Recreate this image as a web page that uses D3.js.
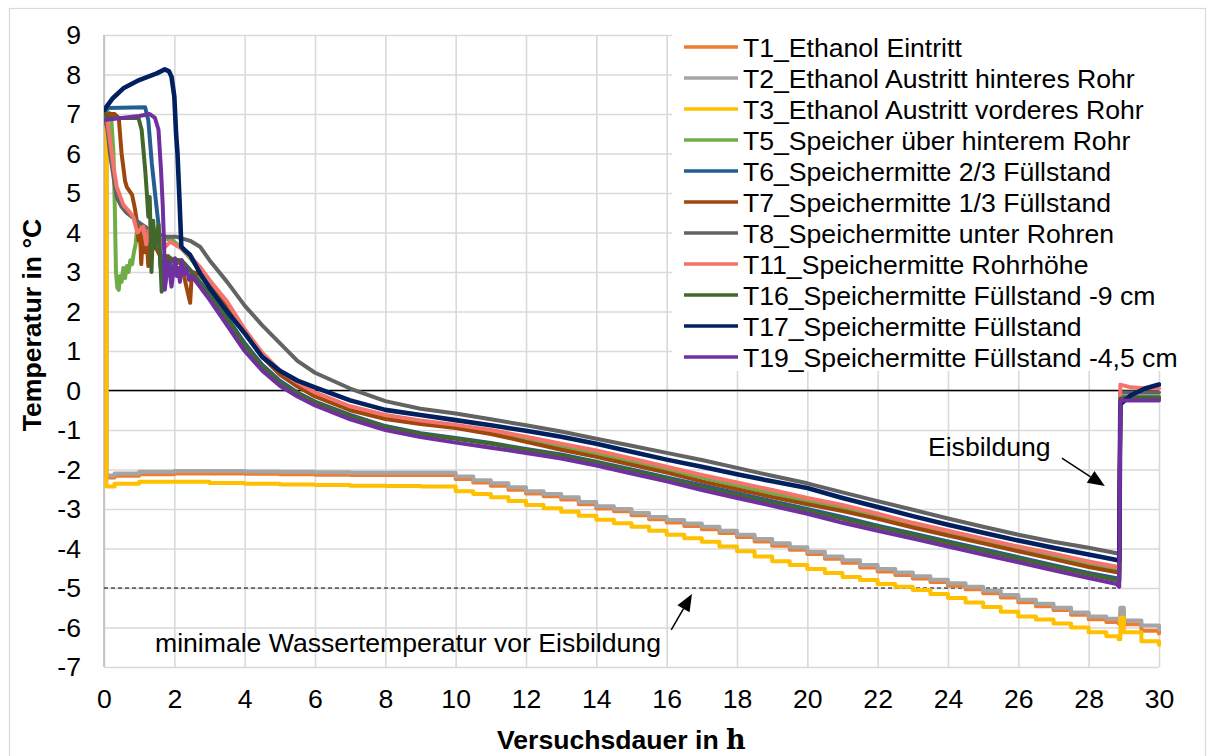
<!DOCTYPE html>
<html><head><meta charset="utf-8">
<script src="https://cdn.jsdelivr.net/npm/d3@7"></script>
<style>
body{margin:0;background:#fff}
text{font-family:"Liberation Sans",Arial,sans-serif;fill:#000}
</style>
</head><body><svg id="c" width="1214" height="756"></svg>
<script>
// ---------- DATA ----------
const seriesNames = ["T1_Ethanol Eintritt","T2_Ethanol Austritt hinteres Rohr","T3_Ethanol Austritt vorderes Rohr","T5_Speicher über hinterem Rohr","T6_Speichermitte 2/3 Füllstand","T7_Speichermitte 1/3 Füllstand","T8_Speichermitte unter Rohren","T11_Speichermitte Rohrhöhe","T16_Speichermitte Füllstand -9 cm","T17_Speichermitte Füllstand","T19_Speichermitte Füllstand -4,5 cm"];
const xTicks = [0,2,4,6,8,10,12,14,16,18,20,22,24,26,28,30];
const yTicks = [9,8,7,6,5,4,3,2,1,0,-1,-2,-3,-4,-5,-6,-7];

// ethanol sensors (hours)
const ethTime = [0,0.04,0.07,0.3,1,2,3,4,5,6,7,8,9,10,10.5,11,11.5,12,12.5,13,13.5,14,14.5,15,15.5,16,16.5,17,17.5,18,18.5,19,19.5,20,20.5,21,21.5,22,22.5,23,23.5,24,24.5,25,25.5,26,26.5,27,27.5,28,28.5,28.85,28.9,29.0,29.5,30];
const t1Temp = [7.0,7.0,-2.2,-2.16,-2.12,-2.1,-2.1,-2.11,-2.12,-2.13,-2.14,-2.14,-2.14,-2.24,-2.33,-2.41,-2.51,-2.61,-2.68,-2.76,-2.88,-2.99,-3.06,-3.16,-3.26,-3.34,-3.43,-3.51,-3.61,-3.71,-3.82,-3.93,-4.03,-4.14,-4.26,-4.36,-4.48,-4.58,-4.67,-4.76,-4.85,-4.94,-5.03,-5.13,-5.24,-5.36,-5.46,-5.56,-5.68,-5.79,-5.86,-5.9,-5.6,-5.92,-6.08,-6.15];
const t2Temp = [7.0,7.0,-2.15,-2.1,-2.06,-2.04,-2.04,-2.05,-2.06,-2.07,-2.08,-2.08,-2.08,-2.18,-2.27,-2.35,-2.45,-2.55,-2.62,-2.7,-2.82,-2.93,-3.0,-3.1,-3.2,-3.28,-3.37,-3.45,-3.55,-3.65,-3.76,-3.87,-3.97,-4.08,-4.2,-4.3,-4.42,-4.52,-4.61,-4.7,-4.79,-4.88,-4.97,-5.07,-5.18,-5.3,-5.4,-5.5,-5.62,-5.72,-5.78,-5.82,-5.5,-5.82,-5.95,-6.05];
const t3Temp = [7.0,7.0,-2.43,-2.36,-2.31,-2.31,-2.34,-2.36,-2.38,-2.39,-2.41,-2.42,-2.43,-2.55,-2.62,-2.7,-2.8,-2.9,-2.98,-3.07,-3.17,-3.27,-3.36,-3.45,-3.55,-3.65,-3.74,-3.83,-3.95,-4.07,-4.2,-4.32,-4.42,-4.52,-4.62,-4.72,-4.8,-4.9,-4.97,-5.05,-5.15,-5.25,-5.37,-5.48,-5.6,-5.72,-5.8,-5.9,-6.0,-6.12,-6.22,-6.3,-5.75,-6.12,-6.35,-6.44];

// storage sensors: common late time grid
const lateTime = [3,3.5,4,4.5,5,5.5,6,7,8,9,10,11,12,13,14,15,16,17,18,19,20,21,22,23,24,25,26,27,28,28.8,28.87,28.9,29.2,29.6,30];

const t5EarlyTime = [0,0.1,0.2,0.27,0.31,0.34,0.38,0.42,0.46,0.5,0.55,0.6,0.65,0.7,0.75,0.8,0.85,0.9,0.95,1.0,1.1,1.5,1.9,2.2,2.5];
const t5EarlyTemp = [7.1,7.05,7.0,6.0,4.5,3.0,2.6,2.55,2.9,2.75,3.1,2.85,3.15,3.0,3.3,3.2,3.5,3.7,4.2,4.1,3.9,3.8,3.85,3.6,3.3];
const t5LateTemp = [2.75,2.15,1.5,0.9,0.45,0.12,-0.12,-0.45,-0.68,-0.82,-0.92,-1.05,-1.22,-1.42,-1.6,-1.8,-2.0,-2.2,-2.4,-2.6,-2.8,-2.98,-3.18,-3.4,-3.6,-3.8,-4.0,-4.2,-4.4,-4.55,-4.57,-0.15,-0.15,-0.15,-0.15];

const t6EarlyTime = [0,0.1,1.17,1.26,1.36,1.45,1.55,1.6,1.65,1.7,1.83,1.95,2.1,2.3,2.5];
const t6EarlyTemp = [7.0,7.15,7.17,6.84,5.75,5.0,4.2,3.2,2.9,3.3,3.3,3.0,3.3,3.2,3.0];
const t6LateTemp = [2.45,1.85,1.2,0.65,0.25,-0.05,-0.28,-0.62,-0.9,-1.08,-1.2,-1.33,-1.48,-1.62,-1.8,-2.0,-2.2,-2.4,-2.6,-2.8,-3.0,-3.2,-3.42,-3.62,-3.82,-4.02,-4.22,-4.42,-4.62,-4.75,-4.78,-0.18,-0.18,-0.18,-0.18];

const t7EarlyTime = [0,0.3,0.42,0.5,0.6,0.65,0.8,0.88,0.93,0.98,1.02,1.06,1.1,1.15,1.2,1.26,1.3,1.36,1.45,1.6,1.8,2.0,2.2,2.35,2.45,2.5,2.7];
const t7EarlyTemp = [7.0,7.0,6.9,6.0,5.3,5.15,4.95,4.6,4.3,3.8,4.1,3.2,3.9,3.5,4.0,3.15,3.8,3.6,3.65,3.4,3.4,3.3,3.2,2.6,2.22,3.0,2.95];
const t7LateTemp = [2.65,2.1,1.45,0.85,0.4,0.1,-0.15,-0.5,-0.72,-0.85,-0.95,-1.1,-1.3,-1.5,-1.68,-1.88,-2.08,-2.3,-2.5,-2.7,-2.88,-3.05,-3.25,-3.47,-3.67,-3.87,-4.07,-4.27,-4.47,-4.6,-4.62,-0.2,-0.2,-0.2,-0.2];

const t8EarlyTime = [0,0.1,0.17,0.27,0.36,0.5,0.64,1.0,1.4,1.78,2.07,2.45,2.73];
const t8EarlyTemp = [7.0,6.6,6.0,5.41,4.9,4.65,4.5,4.25,4.0,3.89,3.89,3.79,3.64];
const t8LateTemp = [3.3,2.75,2.15,1.65,1.2,0.75,0.45,0.05,-0.27,-0.46,-0.58,-0.73,-0.88,-1.04,-1.22,-1.4,-1.58,-1.76,-1.96,-2.16,-2.35,-2.58,-2.8,-3.02,-3.24,-3.45,-3.65,-3.83,-3.98,-4.12,-4.14,-0.05,-0.05,-0.05,-0.05];

const t11EarlyTime = [0,0.1,0.17,0.27,0.36,0.55,0.7,0.83,0.95,1.12,1.2,1.3,1.5,1.7,1.88,2.26,2.73];
const t11EarlyTemp = [7.0,6.8,6.34,5.67,5.16,4.7,4.55,4.4,4.0,4.15,3.7,4.1,3.9,3.6,3.77,3.56,3.13];
const t11LateTemp = [2.8,2.25,1.55,0.95,0.5,0.2,-0.05,-0.4,-0.62,-0.76,-0.87,-1.0,-1.17,-1.35,-1.52,-1.72,-1.93,-2.14,-2.33,-2.52,-2.72,-2.9,-3.12,-3.35,-3.55,-3.75,-3.95,-4.13,-4.33,-4.46,-4.48,0.15,0.08,0.06,0.05];

const t16EarlyTime = [0,0.1,0.98,1.07,1.17,1.22,1.26,1.3,1.35,1.4,1.45,1.5,1.55,1.6,1.64,1.7,1.74,1.83,1.9,2.0,2.2,2.5];
const t16EarlyTemp = [7.0,6.9,6.9,6.6,5.6,4.98,4.4,4.9,3.0,4.3,3.6,3.9,4.2,3.3,2.5,2.8,2.7,3.4,3.25,3.3,3.3,3.0];
const t16LateTemp = [2.4,1.8,1.15,0.6,0.2,-0.08,-0.3,-0.65,-0.92,-1.1,-1.22,-1.35,-1.5,-1.65,-1.83,-2.03,-2.24,-2.45,-2.65,-2.85,-3.05,-3.25,-3.46,-3.66,-3.86,-4.06,-4.26,-4.46,-4.66,-4.8,-4.83,-0.2,-0.2,-0.2,-0.2];

const t17EarlyTime = [0,0.25,0.55,1.0,1.5,1.73,1.85,1.92,2.0,2.05,2.09,2.15,2.2,2.3,2.45,2.73];
const t17EarlyTemp = [7.1,7.4,7.65,7.86,8.03,8.13,8.08,7.94,7.44,6.5,6.0,4.75,3.64,3.55,3.43,2.97];
const t17LateTemp = [2.6,2.0,1.45,0.85,0.5,0.25,0.08,-0.25,-0.49,-0.62,-0.75,-0.88,-1.02,-1.17,-1.35,-1.55,-1.75,-1.93,-2.12,-2.3,-2.47,-2.72,-2.95,-3.18,-3.4,-3.6,-3.8,-3.98,-4.15,-4.29,-4.31,-0.35,-0.12,0.05,0.15];

const t19EarlyTime = [0,0.5,1.0,1.3,1.45,1.55,1.62,1.67,1.71,1.73,1.78,1.83,1.88,1.92,1.97,2.02,2.07,2.11,2.16,2.21,2.28,2.35,2.42,2.5];
const t19EarlyTemp = [6.85,6.9,6.95,7.0,6.9,6.6,5.6,4.7,3.65,2.55,3.0,3.27,2.9,2.63,3.0,3.35,2.9,3.1,2.75,3.3,2.95,3.1,2.8,2.9];
const t19LateTemp = [2.3,1.65,1.0,0.5,0.12,-0.15,-0.38,-0.73,-1.0,-1.18,-1.32,-1.45,-1.58,-1.72,-1.9,-2.1,-2.3,-2.52,-2.72,-2.92,-3.12,-3.35,-3.55,-3.75,-3.95,-4.15,-4.35,-4.55,-4.75,-4.9,-4.97,-0.25,-0.25,-0.25,-0.25];

const minWaterTemp = -5;
const iceStartTime = 28.87;

// ---------- STYLE ----------
const colors = ["#ed7d31","#a5a5a5","#ffc000","#70ad47","#255e91","#9e480e","#636363","#f4736d","#43682b","#002060","#7030a0"];
const svg = d3.select("#c");
const x = d3.scaleLinear().domain([0,30]).range([104,1159]);
const y = d3.scaleLinear().domain([-7,9]).range([667,35]);

function zipS(ts, vs){ return ts.map((t,i)=>({t:t, v:vs[i]})); }
function storage(et, ev, lv){ return zipS(et, ev).concat(zipS(lateTime, lv)); }

const series = [
  {pts: zipS(ethTime, t1Temp), step:true},
  {pts: zipS(ethTime, t2Temp), step:true},
  {pts: zipS(ethTime, t3Temp), step:true},
  {pts: storage(t5EarlyTime, t5EarlyTemp, t5LateTemp)},
  {pts: storage(t6EarlyTime, t6EarlyTemp, t6LateTemp)},
  {pts: storage(t7EarlyTime, t7EarlyTemp, t7LateTemp)},
  {pts: storage(t8EarlyTime, t8EarlyTemp, t8LateTemp)},
  {pts: storage(t11EarlyTime, t11EarlyTemp, t11LateTemp)},
  {pts: storage(t16EarlyTime, t16EarlyTemp, t16LateTemp)},
  {pts: storage(t17EarlyTime, t17EarlyTemp, t17LateTemp), w:4.6},
  {pts: storage(t19EarlyTime, t19EarlyTemp, t19LateTemp)}
];

// chart border
svg.append("rect").attr("x",9.5).attr("y",8.5).attr("width",1196).attr("height",770)
  .attr("fill","#fff").attr("stroke","#d9d9d9").attr("stroke-width",1.2);

// gridlines
const grid = svg.append("g");
grid.append("g").attr("transform",`translate(0,${y(-7)})`)
  .call(d3.axisBottom(x).tickValues(xTicks).tickSize(-(y(-7)-y(9))).tickFormat(""))
  .call(g=>{g.select(".domain").remove(); g.selectAll("line").attr("stroke","#d9d9d9").attr("stroke-width",1.6);});
grid.append("g").attr("transform",`translate(${x(0)},0)`)
  .call(d3.axisLeft(y).tickValues(yTicks).tickSize(-(x(30)-x(0))).tickFormat(""))
  .call(g=>{g.select(".domain").remove(); g.selectAll("line").attr("stroke","#d9d9d9").attr("stroke-width",1.6);});
svg.append("line").attr("x1",x(0)).attr("x2",x(0)).attr("y1",y(9)).attr("y2",y(-7))
  .attr("stroke","#bfbfbf").attr("stroke-width",1.6);

// zero line
svg.append("line").attr("x1",x(0)).attr("x2",x(30)).attr("y1",y(0)).attr("y2",y(0))
  .attr("stroke","#000").attr("stroke-width",1.4);
// dashed minimum line
svg.append("line").attr("x1",x(0)).attr("x2",x(iceStartTime)).attr("y1",y(minWaterTemp)).attr("y2",y(minWaterTemp))
  .attr("stroke","#000").attr("stroke-width",1.2).attr("stroke-dasharray","4,3");

// series
svg.append("clipPath").attr("id","pc").append("rect")
  .attr("x",x(0)).attr("y",y(9)-5).attr("width",x(30)-x(0)+2).attr("height",y(-7)-y(9)+10);
const lineG = svg.append("g").attr("clip-path","url(#pc)");
series.forEach((s,i)=>{
  const gen = d3.line().x(d=>x(d.t)).y(d=>y(d.v)).curve(s.step ? d3.curveStepAfter : d3.curveLinear);
  lineG.append("path").attr("d",gen(s.pts)).attr("fill","none")
    .attr("stroke",colors[i]).attr("stroke-width",s.w||4)
    .attr("stroke-linejoin","round").attr("stroke-linecap","round");
});

// axes labels
const fs = 26.6;
svg.append("g").attr("transform",`translate(${x(0)},0)`)
  .call(d3.axisLeft(y).tickValues(yTicks).tickSize(0).tickPadding(23).tickFormat(d=>String(d)))
  .call(g=>{g.select(".domain").remove(); g.selectAll("text").style("font-size",fs+"px").style("font-family","'Liberation Sans',Arial,sans-serif").attr("fill","#000");});
svg.append("g").attr("transform",`translate(0,${y(-7)})`)
  .call(d3.axisBottom(x).tickValues(xTicks).tickSize(0).tickPadding(22).tickFormat(d=>String(d)))
  .call(g=>{g.select(".domain").remove(); g.selectAll("text").style("font-size",fs+"px").style("font-family","'Liberation Sans',Arial,sans-serif").attr("fill","#000");});

// axis titles
const xt = svg.append("text").attr("x",497).attr("y",749).style("font-size",fs+"px").style("font-weight","bold");
xt.append("tspan").text("Versuchsdauer in ");
xt.append("tspan").style("font-family","'DejaVu Serif','Liberation Serif',serif").style("font-size","27px").text("h");
svg.append("text").attr("transform","translate(41,325) rotate(-90)").attr("text-anchor","middle")
  .style("font-size",fs+"px").style("font-weight","bold").text("Temperatur in °C");

// annotations
function arrow(t0,v0,t1,v1){
  const xa=x(t0), ya=y(v0), xb=x(t1), yb=y(v1);
  const dx=xb-xa, dy=yb-ya, L=Math.hypot(dx,dy), ux=dx/L, uy=dy/L;
  const hl=17, hw=7;
  const bx=xb-ux*hl, by=yb-uy*hl;
  svg.append("line").attr("x1",xa).attr("y1",ya).attr("x2",bx).attr("y2",by).attr("stroke","#000").attr("stroke-width",1.5);
  svg.append("path").attr("d",`M${xb},${yb}L${bx-uy*hw},${by+ux*hw}L${bx+uy*hw},${by-ux*hw}Z`).attr("fill","#000");
}
svg.append("text").attr("x",x(23.43)).attr("y",y(-1.66)).style("font-size",fs+"px").text("Eisbildung");
arrow(27.24,-1.71,28.46,-2.42);
svg.append("text").attr("x",x(1.45)).attr("y",y(-6.62)).style("font-size",fs+"px").text("minimale Wassertemperatur vor Eisbildung");
arrow(16.13,-6.06,16.72,-5.15);

// legend
const lg = svg.append("g");
lg.append("rect").attr("x",672).attr("y",29).attr("width",526).attr("height",342).attr("fill","#fff");
seriesNames.forEach((n,i)=>{
  const yy = 47 + i*31;
  lg.append("line").attr("x1",684).attr("x2",738).attr("y1",yy).attr("y2",yy)
    .attr("stroke",colors[i]).attr("stroke-width",3.5);
  lg.append("text").attr("x",743).attr("y",yy+9.5).style("font-size",fs+"px").text(n);
});
</script></body></html>
